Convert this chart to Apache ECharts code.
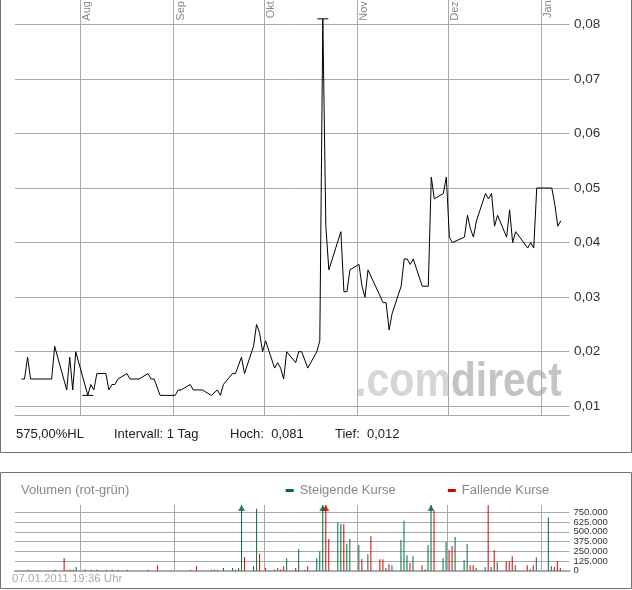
<!DOCTYPE html>
<html><head><meta charset="utf-8">
<script src="https://cdn.jsdelivr.net/npm/echarts@6/dist/echarts.min.js"></script>
<style>html,body{margin:0;padding:0;background:#fff}#c{width:632px;height:590px}</style>
</head><body><div id="c"></div>
<script>
// ---------- data ----------
const priceDates = ['2010-07-12','2010-07-13','2010-07-14','2010-07-15','2010-07-22','2010-07-23','2010-07-26','2010-07-27','2010-07-28','2010-07-29','2010-07-30',
'2010-08-02','2010-08-03','2010-08-04','2010-08-05','2010-08-06','2010-08-09','2010-08-10','2010-08-11','2010-08-12','2010-08-13','2010-08-16','2010-08-17','2010-08-20','2010-08-23','2010-08-24','2010-08-25','2010-08-27',
'2010-09-01','2010-09-02','2010-09-03','2010-09-06','2010-09-07','2010-09-10','2010-09-13','2010-09-15','2010-09-16','2010-09-17','2010-09-20','2010-09-21','2010-09-23','2010-09-24','2010-09-27','2010-09-28','2010-09-29','2010-09-30',
'2010-10-01','2010-10-04','2010-10-05','2010-10-06','2010-10-07','2010-10-08','2010-10-11','2010-10-12','2010-10-13','2010-10-15','2010-10-18','2010-10-19','2010-10-20','2010-10-21','2010-10-22','2010-10-26','2010-10-27','2010-10-28','2010-10-29',
'2010-11-01','2010-11-02','2010-11-03','2010-11-04','2010-11-09','2010-11-10','2010-11-11','2010-11-12','2010-11-15','2010-11-16','2010-11-17','2010-11-18','2010-11-19','2010-11-22','2010-11-24','2010-11-25','2010-11-26','2010-11-29','2010-11-30',
'2010-12-01','2010-12-02','2010-12-06','2010-12-07','2010-12-08','2010-12-09','2010-12-10','2010-12-13','2010-12-14','2010-12-15','2010-12-16','2010-12-17','2010-12-20','2010-12-21','2010-12-22','2010-12-23','2010-12-27','2010-12-28','2010-12-29','2010-12-30',
'2011-01-04','2011-01-05','2011-01-06','2011-01-07'];
const priceValues = [0.015,0.015,0.019,0.015,0.015,0.021,0.015,0.013,0.019,0.013,0.020,
0.014,0.012,0.014,0.013,0.016,0.016,0.013,0.014,0.014,0.015,0.016,0.015,0.015,0.016,0.015,0.015,0.012,
0.012,0.013,0.013,0.014,0.013,0.013,0.012,0.013,0.012,0.014,0.016,0.016,0.019,0.016,0.021,0.025,0.0235,0.020,
0.022,0.017,0.018,0.017,0.015,0.020,0.018,0.020,0.020,0.017,0.020,0.022,0.081,0.043,0.035,0.042,0.031,0.031,0.035,
0.036,0.032,0.030,0.035,0.029,0.029,0.024,0.027,0.032,0.037,0.037,0.036,0.037,0.032,0.032,0.052,0.048,0.049,0.052,
0.041,0.040,0.041,0.045,0.0425,0.041,0.044,0.049,0.048,0.049,0.043,0.045,0.041,0.046,0.040,0.042,0.039,0.040,0.039,0.050,
0.050,0.047,0.043,0.044];

const volDates = ['2010-07-14','2010-07-23','2010-07-26','2010-07-27','2010-07-28','2010-07-29','2010-07-30',
'2010-08-02','2010-08-04','2010-08-06','2010-08-09','2010-08-11','2010-08-13','2010-08-16','2010-08-23','2010-08-26',
'2010-09-06','2010-09-08','2010-09-13','2010-09-14','2010-09-15','2010-09-17','2010-09-20','2010-09-21','2010-09-22','2010-09-23','2010-09-24','2010-09-27','2010-09-28','2010-09-29',
'2010-10-01','2010-10-04','2010-10-05','2010-10-06','2010-10-07','2010-10-08','2010-10-11','2010-10-12','2010-10-14','2010-10-15','2010-10-18','2010-10-19','2010-10-20','2010-10-21','2010-10-22','2010-10-25','2010-10-26','2010-10-27','2010-10-28','2010-10-29',
'2010-11-01','2010-11-02','2010-11-03','2010-11-04','2010-11-05','2010-11-08','2010-11-09','2010-11-10','2010-11-11','2010-11-12','2010-11-15','2010-11-16','2010-11-17','2010-11-18','2010-11-19','2010-11-22','2010-11-23','2010-11-24','2010-11-25','2010-11-26','2010-11-29','2010-11-30',
'2010-12-01','2010-12-02','2010-12-03','2010-12-06','2010-12-07','2010-12-08','2010-12-09','2010-12-10','2010-12-13','2010-12-14','2010-12-15','2010-12-16','2010-12-17','2010-12-20','2010-12-21','2010-12-22','2010-12-23','2010-12-27','2010-12-28','2010-12-29','2010-12-30',
'2011-01-03','2011-01-04','2011-01-05','2011-01-06','2011-01-07'];
const volValues = [12000,12000,164000,12000,15000,12000,47000,
15000,12000,15000,12000,12000,12000,12000,12000,70000,
12000,56000,12000,12000,12000,35000,35000,12000,35000,1000000,177000,56000,796000,220000,
35000,15000,35000,15000,56000,160000,35000,277000,12000,56000,160000,250000,1000000,1000000,407000,618000,600000,600000,342000,407000,
330000,147000,8000,212000,446000,147000,147000,35000,82000,70000,394000,640000,199000,100000,186000,70000,20000,330000,1000000,774000,164000,372000,
264000,316000,433000,134000,342000,70000,70000,35000,48000,840000,48000,264000,108000,121000,121000,186000,70000,70000,20000,70000,173000,
683000,56000,48000,121000,35000];
const volDir = ['u','u','d','d','u','d','u',
'd','u','u','u','d','u','u','u','d',
'u','d','d','u','u','u','u','u','u','u','d','u','u','d',
'd','d','u','d','d','u','d','u','d','d','u','u','u','d','d','u','u','d','u','u',
'u','d','d','u','d','d','d','u','d','u','u','u','u','d','u','d','u','u','u','d','u','u',
'd','d','u','u','u','d','d','u','u','d','u','d','u','d','d','d','u','d','u','d','u',
'u','u','d','d','u'];

const monthStarts = ['2010-08-01','2010-09-01','2010-10-01','2010-11-01','2010-12-01','2011-01-01'];
const monthLabels = ['Aug 2010','Sep 2010','Okt 2010','Nov 2010','Dez 2010','Jan 2011'];
const priceTickMin = 0.01, priceTickMax = 0.08, priceTickStep = 0.01;
const volTickMin = 0, volTickMax = 750000, volTickStep = 125000;

// ---------- helpers ----------
const FONT = '"Liberation Sans", Arial, Helvetica, sans-serif';
function ts(s, h){ const p = s.split('-'); return Date.UTC(+p[0], +p[1]-1, +p[2], h == null ? 12 : h); }
function de(v, d){ return v.toFixed(d).replace('.', ','); }
function thousands(v){ return String(Math.round(v)).replace(/\B(?=(\d{3})+(?!\d))/g, '.'); }

const xMin = Date.UTC(2010,6,10,8), xMax = Date.UTC(2011,0,10,9);
const priceAxisMin = 0.008406, priceAxisMax = 0.084453;
const volAxisMax = 843750;
const GREEN = '#006b3c', RED = '#d40000', GRID = '#aaaaaa';

const priceData = priceDates.map((d,i)=>[ts(d), priceValues[i]]);
let hi = 0, lo = 0;
priceValues.forEach((v,i)=>{ if (v > priceValues[hi]) hi = i; if (v < priceValues[lo]) lo = i; });
const hiV = priceValues[hi], loV = priceValues[lo];

const upData = [], downData = [], capData = [];
volDates.forEach((d,i)=>{
  const item = [ts(d), volValues[i]];
  (volDir[i] === 'u' ? upData : downData).push(item);
  if (volValues[i] > volAxisMax) capData.push({value:[ts(d), volAxisMax], itemStyle:{color: volDir[i]==='u'?GREEN:RED}});
});
const monthLineData = monthStarts.map(m=>({xAxis: ts(m,0)}));

const chart = echarts.init(document.getElementById('c'), null, {renderer:'canvas'});
const gridL = 15, gridR = 62.5;
chart.setOption({
  animation:false,
  textStyle:{fontFamily:FONT},
  title:{text:'Volumen (rot-grün)', left:21, top:483.5, padding:0, textStyle:{fontSize:13, fontWeight:'normal', color:'#888', fontFamily:FONT}},
  legend:{data:['Steigende Kurse','Fallende Kurse'], left:285.7, top:484, padding:0, itemWidth:8, itemHeight:3, itemGap:52, icon:'rect', selectedMode:false,
    textStyle:{fontSize:13, color:'#888', fontFamily:FONT, padding:[0,0,0,1]}},
  grid:[
    {left:gridL, right:gridR, top:0, bottom:175},
    {left:gridL, right:gridR, top:24.3, bottom:183.7},
    {left:gridL, right:gridR, top:505, bottom:19.3},
    {left:gridL, right:gridR, top:512.3, bottom:19.3}
  ],
  xAxis:[
    {type:'time', gridIndex:0, min:xMin, max:xMax, axisLine:{show:true, lineStyle:{color:GRID, width:1}}, axisTick:{show:false}, axisLabel:{show:false}, splitLine:{show:false}},
    {type:'value', gridIndex:1, min:0, max:1, show:false},
    {type:'time', gridIndex:2, min:xMin, max:xMax, axisLine:{show:true, lineStyle:{color:GRID, width:2}}, axisTick:{show:false}, axisLabel:{show:false}, splitLine:{show:false}},
    {type:'value', gridIndex:3, min:0, max:1, show:false}
  ],
  yAxis:[
    {type:'value', gridIndex:0, min:priceAxisMin, max:priceAxisMax, show:false},
    {type:'value', gridIndex:1, min:priceTickMin, max:priceTickMax, interval:priceTickStep, position:'right',
      axisLine:{show:false}, axisTick:{show:false}, splitLine:{show:true, lineStyle:{color:GRID, width:1}},
      axisLabel:{margin:4.5, fontSize:13.5, color:'#333', fontFamily:FONT, formatter:v=>de(v,2)}},
    {type:'value', gridIndex:2, min:0, max:volAxisMax, show:false},
    {type:'value', gridIndex:3, min:volTickMin, max:volTickMax, interval:volTickStep, position:'right',
      axisLine:{show:false}, axisTick:{show:false}, splitLine:{show:true, lineStyle:{color:GRID, width:1}},
      axisLabel:{show:false}}
  ],
  series:[
    {type:'line', name:'Kurs', xAxisIndex:0, yAxisIndex:0, data:priceData, showSymbol:false, symbol:'none',
      lineStyle:{color:'#000', width:1}, itemStyle:{color:'#000'}, z:5, clip:false,
      markLine:{silent:true, symbol:'none', label:{show:false}, lineStyle:{color:GRID, width:1, type:'solid'}, emphasis:{disabled:true}, data:monthLineData},
      markPoint:{silent:true, symbol:'rect', symbolSize:[11,1], itemStyle:{color:'#000'}, label:{show:false},
        data:[{coord:priceData[hi]}, {coord:priceData[lo]}]}
    },
    {type:'bar', name:'Steigende Kurse', xAxisIndex:2, yAxisIndex:2, data:upData, barWidth:1, barGap:'-100%', itemStyle:{color:GREEN}, z:3,
      markLine:{silent:true, symbol:'none', label:{show:false}, lineStyle:{color:GRID, width:1, type:'solid'}, emphasis:{disabled:true}, data:monthLineData}
    },
    {type:'bar', name:'Fallende Kurse', xAxisIndex:2, yAxisIndex:2, data:downData, barWidth:1, barGap:'-100%', itemStyle:{color:RED}, z:3},
    {type:'scatter', xAxisIndex:2, yAxisIndex:2, data:capData, symbol:'triangle', symbolSize:[7,6], symbolOffset:[0,3], clip:false, z:4, silent:true}
  ]
});

// ---------- graphic overlays ----------
const g = [];
const BORDER = '#707070';
g.push({type:'line', shape:{x1:0.5,y1:0,x2:0.5,y2:452.5}, style:{stroke:BORDER, lineWidth:1}, silent:true});
g.push({type:'line', shape:{x1:631.5,y1:0,x2:631.5,y2:452.5}, style:{stroke:BORDER, lineWidth:1}, silent:true});
g.push({type:'line', shape:{x1:0.5,y1:452.5,x2:631.5,y2:452.5}, style:{stroke:BORDER, lineWidth:1}, silent:true});
g.push({type:'rect', shape:{x:0.5,y:472.5,width:631,height:116}, style:{stroke:BORDER, fill:null, lineWidth:1}, silent:true});
monthStarts.forEach((m,i)=>{
  const px = chart.convertToPixel({xAxisIndex:0}, ts(m,0));
  g.push({type:'text', x:px+1.5, y:-26.4, rotation:Math.PI/2, silent:true,
    style:{text:monthLabels[i], align:'right', verticalAlign:'top', fill:'#888', font:'11px '+FONT}});
});
// volume axis labels, placed through the volume label axis
const volLabelX = chart.convertToPixel({xAxisIndex:3}, 1) + 4;
for (let v = volTickMin; v <= volTickMax; v += volTickStep) {
  const py = chart.convertToPixel({yAxisIndex:3}, v);
  g.push({type:'text', x:volLabelX, y:py, silent:true, style:{text:thousands(v), align:'left', verticalAlign:'middle', fill:'#333', font:'9.5px '+FONT}});
}
// watermark
g.push({type:'text', x:355, y:382.5, scaleX:0.84, z:-1, silent:true, style:{text:'.com', align:'left', verticalAlign:'middle', fill:'#d6d6d6', font:'bold 49px '+FONT}});
g.push({type:'text', x:451, y:382.5, scaleX:0.83, z:-1, silent:true, style:{text:'direct', align:'left', verticalAlign:'middle', fill:'#c4c4c4', font:'bold 49px '+FONT}});
// stats line
const hlPct = (hiV - loV) / loV * 100;
const stats = [[16, de(hlPct,2)+'%HL'], [114, 'Intervall: 1 Tag'], [230, 'Hoch:  '+de(hiV,3)], [335, 'Tief:  '+de(loV,3)]];
stats.forEach(s=>g.push({type:'text', x:s[0], y:434.5, silent:true, style:{text:s[1], align:'left', verticalAlign:'middle', fill:'#222', font:'13px '+FONT}}));
g.push({type:'text', x:12, y:578.5, silent:true, style:{text:'07.01.2011 19:36 Uhr', align:'left', verticalAlign:'middle', fill:'#aaa', font:'11.5px '+FONT}});
chart.setOption({graphic:g});
</script></body></html>
